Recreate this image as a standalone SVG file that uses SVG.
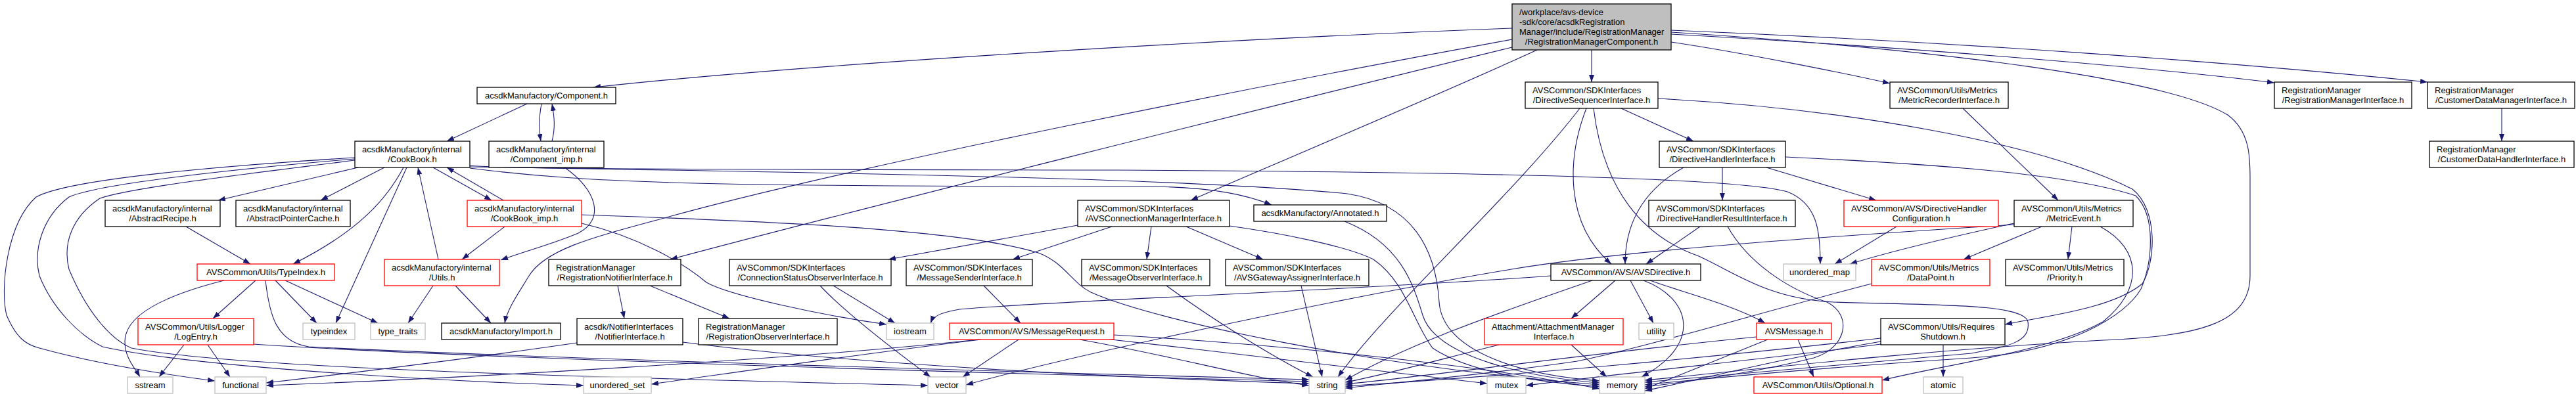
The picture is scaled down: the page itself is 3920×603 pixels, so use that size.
<svg xmlns="http://www.w3.org/2000/svg" width="3920" height="603" viewBox="0 0 3920 603">
<style>
rect{fill:#fff;stroke:#000;stroke-width:1.3}
.r rect{stroke:#ff0000}
.g rect{stroke:#bfbfbf}
.root rect{fill:#bfbfbf}
text{font-family:"Liberation Sans",Arial,Helvetica,sans-serif;font-size:13px;fill:#000}
.c{text-anchor:middle}
#edges path{fill:none;stroke:#191970;stroke-width:1.1;marker-end:url(#a)}
</style>
<defs>
<marker id="a" viewBox="0 0 11 8" refX="11" refY="4" markerWidth="11" markerHeight="8" orient="auto" markerUnits="userSpaceOnUse"><path d="M0,0 L11,4 L0,8 z" fill="#191970"/></marker>
</defs>
<rect x="0" y="0" width="3920" height="603" style="stroke:none;fill:#fff"/>
<g id="edges">
<path d="M2301,43 C1900,58 1250,95 903,133"/>
<path d="M2301,60 C2000,115 1300,250 1000,335 C900,362 830,380 805,420 C790,445 772,470 768,492"/>
<path d="M2301,72 C1900,170 1300,320 1020,395"/>
<path d="M2339,76 C2200,140 1950,245 1812,305"/>
<path d="M2422,76 L2422,125"/>
<path d="M2543,64 C2650,80 2800,110 2876,127"/>
<path d="M2543,52 C2900,72 3250,100 3461,126"/>
<path d="M2543,46 C3000,65 3400,95 3694,125"/>
<path d="M2543,49 C2950,75 3300,120 3390,175 C3424,200 3424,240 3424,270 L3424,420 C3424,495 3340,512 3200,518 C2900,535 2650,565 2503,579"/>
<path d="M2404,165 C2300,300 2110,470 2036,574"/>
<path d="M2414,165 C2385,240 2380,340 2452,402"/>
<path d="M2425,165 C2440,290 2500,360 2585,390 C2640,415 2690,455 2790,460 C2950,465 3080,462 3086,490 C3090,520 3060,527 3000,538 C2800,555 2620,572 2503,582"/>
<path d="M2467,165 L2577,215"/>
<path d="M2523,150 C2800,165 3100,215 3245,288 C3285,320 3280,400 3260,432 C3215,470 3110,482 3051,494"/>
<path d="M2562,255 C2500,290 2473,340 2473,402"/>
<path d="M2621,255 L2621,305"/>
<path d="M2688,255 L2855,305"/>
<path d="M2717,239 C2950,250 3150,265 3250,298 C3282,330 3275,400 3258,440 C3235,480 3150,535 3000,545 C2800,558 2620,574 2503,586"/>
<path d="M2587,345 L2505,402"/>
<path d="M2629,345 C2660,400 2720,440 2780,460 C2820,480 2810,530 2760,545 C2680,565 2580,580 2503,589"/>
<path d="M2360,420 C2100,440 1600,458 1460,471 C1430,476 1420,482 1416,492"/>
<path d="M2423,427 C2300,470 2150,520 2047,579"/>
<path d="M2458,427 L2391,485"/>
<path d="M2481,427 L2516,492"/>
<path d="M2501,427 C2575,455 2590,525 2498,574"/>
<path d="M2511,427 C2560,445 2640,465 2686,492"/>
<path d="M2281,525 C2200,545 2100,573 2047,582"/>
<path d="M2391,525 L2445,574"/>
<path d="M2736,517 L2760,574"/>
<path d="M2673,513 C2400,540 2200,570 2047,585"/>
<path d="M2690,517 C2620,545 2560,570 2503,592"/>
<path d="M2957,525 L2957,574"/>
<path d="M2862,515 C2600,545 2300,572 2047,588"/>
<path d="M2862,520 C2700,548 2600,575 2503,595"/>
<path d="M2862,524 C2700,545 2500,565 2322,587"/>
<path d="M3065,340 C2950,365 2870,385 2815,402"/>
<path d="M3107,345 L2988,395"/>
<path d="M3153,345 L3147,395"/>
<path d="M3065,342 C2700,365 2450,385 2300,410 C2000,460 1600,550 1470,586"/>
<path d="M3196,345 C3260,380 3262,440 3200,490 C3120,535 2960,555 2864,579"/>
<path d="M2886,345 L2792,402"/>
<path d="M2848,432 C2700,470 2500,530 2400,550 C2250,572 2100,585 2047,591"/>
<path d="M2987,165 L3132,305"/>
<path d="M3807,165 L3807,215"/>
<path d="M540,240 C300,255 100,275 55,300 C10,340 0,440 10,480 C25,515 40,525 60,530 C150,555 250,570 327,580"/>
<path d="M540,242 C350,258 150,280 105,300 C65,330 50,380 60,420 C80,470 120,510 156,528 C300,560 700,582 888,587"/>
<path d="M540,244 C400,262 200,285 152,302 C110,330 95,370 105,410 C130,470 165,515 200,530 C350,560 900,575 1412,587"/>
<path d="M545,255 L332,305"/>
<path d="M585,255 L488,305"/>
<path d="M614,255 C590,300 550,350 446,402"/>
<path d="M619,255 L511,492"/>
<path d="M659,255 L748,305"/>
<path d="M715,252 C760,258 1200,258 1700,259 C2300,262 2650,272 2720,292 C2765,310 2770,350 2770,402"/>
<path d="M715,256 C900,280 1100,284 1750,284 C1850,285 1900,298 1935,312"/>
<path d="M715,254 C1200,262 1800,270 2050,295 C2150,310 2185,380 2190,460 C2195,530 2300,570 2434,580"/>
<path d="M2046,337 C2130,370 2150,430 2165,480 C2185,545 2330,575 2434,583"/>
<path d="M802,158 L680,215"/>
<path d="M824,158 C820,180 820,195 823,215"/>
<path d="M840,215 C845,195 844,180 840,158"/>
<path d="M859,255 C910,290 920,335 880,355 C840,372 800,382 762,396"/>
<path d="M766,305 L680,255"/>
<path d="M768,345 L703,395"/>
<path d="M885,340 C970,360 1040,400 1075,430 C1110,450 1250,480 1349,494"/>
<path d="M885,327 C1100,335 1450,345 1580,385 C1620,400 1630,430 1660,445 C1760,490 2100,560 2434,586"/>
<path d="M667,395 L636,255"/>
<path d="M659,435 L621,492"/>
<path d="M693,435 L747,492"/>
<path d="M283,345 L381,402"/>
<path d="M341,427 C250,450 190,480 190,520 C190,545 205,560 213,574"/>
<path d="M389,427 L324,485"/>
<path d="M419,427 L482,492"/>
<path d="M434,427 L575,492"/>
<path d="M404,427 C410,480 420,520 470,528 C800,545 1600,568 1992,578"/>
<path d="M280,525 L242,574"/>
<path d="M316,525 L350,574"/>
<path d="M386,524 C700,545 1500,568 1992,581"/>
<path d="M940,435 L950,485"/>
<path d="M989,435 L1110,485"/>
<path d="M878,522 C700,548 500,572 405,583"/>
<path d="M1039,521 C1300,555 1700,575 1992,584"/>
<path d="M1268,435 L1362,492"/>
<path d="M1248,435 C1290,480 1370,540 1416,574"/>
<path d="M1640,343 L1352,395"/>
<path d="M1692,345 L1541,395"/>
<path d="M1752,345 L1745,395"/>
<path d="M1805,345 L1922,395"/>
<path d="M1871,344 C1950,355 2050,375 2090,395 C2140,430 2150,490 2180,530 C2240,570 2350,582 2434,589"/>
<path d="M1497,435 L1553,492"/>
<path d="M1775,435 C1850,490 1940,545 1998,574"/>
<path d="M1980,435 L2012,574"/>
<path d="M1550,517 L1465,574"/>
<path d="M1493,517 C1300,540 1100,570 991,585"/>
<path d="M1480,518 C1200,548 700,576 405,587"/>
<path d="M1643,517 C1800,545 1900,575 1992,587"/>
<path d="M1682,516 C1900,540 2150,572 2263,584"/>
<path d="M1695,510 C1950,525 2250,555 2434,592"/>
</g>
<g id="root" class="root"><rect x="2301" y="6" width="242" height="70"/><text x="2312" y="23">/workplace/avs-device</text><text x="2312" y="38">-sdk/core/acsdkRegistration</text><text x="2312" y="53">Manager/include/RegistrationManager</text><text class="c" x="2422" y="68">/RegistrationManagerComponent.h</text></g>
<g id="component"><rect x="726" y="133" width="211" height="25"/><text class="c" x="831.5" y="150">acsdkManufactory/Component.h</text></g>
<g id="dirseq"><rect x="2321" y="125" width="202" height="40"/><text x="2332" y="142">AVSCommon/SDKInterfaces</text><text class="c" x="2422" y="157">/DirectiveSequencerInterface.h</text></g>
<g id="metricrec"><rect x="2876" y="125" width="180" height="40"/><text x="2887" y="142">AVSCommon/Utils/Metrics</text><text class="c" x="2966" y="157">/MetricRecorderInterface.h</text></g>
<g id="regmgr"><rect x="3461" y="125" width="209" height="40"/><text x="3472" y="142">RegistrationManager</text><text class="c" x="3565.5" y="157">/RegistrationManagerInterface.h</text></g>
<g id="custmgr"><rect x="3694" y="125" width="224" height="40"/><text x="3705" y="142">RegistrationManager</text><text class="c" x="3806" y="157">/CustomerDataManagerInterface.h</text></g>
<g id="cookbook"><rect x="540" y="215" width="175" height="40"/><text x="551" y="232">acsdkManufactory/internal</text><text class="c" x="627.5" y="247">/CookBook.h</text></g>
<g id="compimp"><rect x="744" y="215" width="175" height="40"/><text x="755" y="232">acsdkManufactory/internal</text><text class="c" x="831.5" y="247">/Component_imp.h</text></g>
<g id="dhi"><rect x="2525" y="215" width="192" height="40"/><text x="2536" y="232">AVSCommon/SDKInterfaces</text><text class="c" x="2621" y="247">/DirectiveHandlerInterface.h</text></g>
<g id="custhandler"><rect x="3697" y="215" width="220" height="40"/><text x="3708" y="232">RegistrationManager</text><text class="c" x="3807" y="247">/CustomerDataHandlerInterface.h</text></g>
<g id="absrecipe"><rect x="160" y="305" width="175" height="40"/><text x="171" y="322">acsdkManufactory/internal</text><text class="c" x="247.5" y="337">/AbstractRecipe.h</text></g>
<g id="abscache"><rect x="359" y="305" width="174" height="40"/><text x="370" y="322">acsdkManufactory/internal</text><text class="c" x="446" y="337">/AbstractPointerCache.h</text></g>
<g id="cookimp" class="r"><rect x="711" y="305" width="174" height="40"/><text x="722" y="322">acsdkManufactory/internal</text><text class="c" x="798" y="337">/CookBook_imp.h</text></g>
<g id="connmgr"><rect x="1640" y="305" width="231" height="40"/><text x="1651" y="322">AVSCommon/SDKInterfaces</text><text class="c" x="1755.5" y="337">/AVSConnectionManagerInterface.h</text></g>
<g id="annotated"><rect x="1908" y="312" width="202" height="25"/><text class="c" x="2009" y="329">acsdkManufactory/Annotated.h</text></g>
<g id="dhr"><rect x="2509" y="305" width="223" height="40"/><text x="2520" y="322">AVSCommon/SDKInterfaces</text><text class="c" x="2620.5" y="337">/DirectiveHandlerResultInterface.h</text></g>
<g id="dhconfig" class="r"><rect x="2806" y="305" width="235" height="40"/><text x="2817" y="322">AVSCommon/AVS/DirectiveHandler</text><text class="c" x="2923.5" y="337">Configuration.h</text></g>
<g id="metricevent"><rect x="3065" y="305" width="181" height="40"/><text x="3076" y="322">AVSCommon/Utils/Metrics</text><text class="c" x="3155.5" y="337">/MetricEvent.h</text></g>
<g id="typeindexh" class="r"><rect x="300" y="402" width="209" height="25"/><text class="c" x="404.5" y="419">AVSCommon/Utils/TypeIndex.h</text></g>
<g id="utils" class="r"><rect x="585" y="395" width="175" height="40"/><text x="596" y="412">acsdkManufactory/internal</text><text class="c" x="672.5" y="427">/Utils.h</text></g>
<g id="regnotifier"><rect x="835" y="395" width="201" height="40"/><text x="846" y="412">RegistrationManager</text><text class="c" x="935.5" y="427">/RegistrationNotifierInterface.h</text></g>
<g id="connstatus"><rect x="1110" y="395" width="246" height="40"/><text x="1121" y="412">AVSCommon/SDKInterfaces</text><text class="c" x="1233" y="427">/ConnectionStatusObserverInterface.h</text></g>
<g id="msgsender"><rect x="1379" y="395" width="192" height="40"/><text x="1390" y="412">AVSCommon/SDKInterfaces</text><text class="c" x="1475" y="427">/MessageSenderInterface.h</text></g>
<g id="msgobserver"><rect x="1646" y="395" width="195" height="40"/><text x="1657" y="412">AVSCommon/SDKInterfaces</text><text class="c" x="1743.5" y="427">/MessageObserverInterface.h</text></g>
<g id="gateway"><rect x="1865" y="395" width="218" height="40"/><text x="1876" y="412">AVSCommon/SDKInterfaces</text><text class="c" x="1974" y="427">/AVSGatewayAssignerInterface.h</text></g>
<g id="avsdirective"><rect x="2360" y="402" width="228" height="25"/><text class="c" x="2474" y="419">AVSCommon/AVS/AVSDirective.h</text></g>
<g id="umap" class="g"><rect x="2714" y="402" width="110" height="25"/><text class="c" x="2769" y="419">unordered_map</text></g>
<g id="datapoint" class="r"><rect x="2848" y="395" width="180" height="40"/><text x="2859" y="412">AVSCommon/Utils/Metrics</text><text class="c" x="2938" y="427">/DataPoint.h</text></g>
<g id="priority"><rect x="3052" y="395" width="180" height="40"/><text x="3063" y="412">AVSCommon/Utils/Metrics</text><text class="c" x="3142" y="427">/Priority.h</text></g>
<g id="logentry" class="r"><rect x="210" y="485" width="176" height="40"/><text x="221" y="502">AVSCommon/Utils/Logger</text><text class="c" x="298" y="517">/LogEntry.h</text></g>
<g id="typeindex" class="g"><rect x="461" y="492" width="79" height="25"/><text class="c" x="500.5" y="509">typeindex</text></g>
<g id="typetraits" class="g"><rect x="564" y="492" width="83" height="25"/><text class="c" x="605.5" y="509">type_traits</text></g>
<g id="import"><rect x="672" y="492" width="181" height="25"/><text class="c" x="762.5" y="509">acsdkManufactory/Import.h</text></g>
<g id="notifier"><rect x="878" y="485" width="161" height="40"/><text x="889" y="502">acsdk/NotifierInterfaces</text><text class="c" x="958.5" y="517">/NotifierInterface.h</text></g>
<g id="regobserver"><rect x="1063" y="485" width="211" height="40"/><text x="1074" y="502">RegistrationManager</text><text class="c" x="1168.5" y="517">/RegistrationObserverInterface.h</text></g>
<g id="iostream" class="g"><rect x="1349" y="492" width="72" height="25"/><text class="c" x="1385" y="509">iostream</text></g>
<g id="msgrequest" class="r"><rect x="1445" y="492" width="250" height="25"/><text class="c" x="1570" y="509">AVSCommon/AVS/MessageRequest.h</text></g>
<g id="attachment" class="r"><rect x="2259" y="485" width="211" height="40"/><text x="2270" y="502">Attachment/AttachmentManager</text><text class="c" x="2364.5" y="517">Interface.h</text></g>
<g id="utility" class="g"><rect x="2494" y="492" width="53" height="25"/><text class="c" x="2520.5" y="509">utility</text></g>
<g id="avsmessage" class="r"><rect x="2673" y="492" width="114" height="25"/><text class="c" x="2730" y="509">AVSMessage.h</text></g>
<g id="reqshutdown"><rect x="2862" y="485" width="189" height="40"/><text x="2873" y="502">AVSCommon/Utils/Requires</text><text class="c" x="2956.5" y="517">Shutdown.h</text></g>
<g id="sstream" class="g"><rect x="194" y="574" width="69" height="25"/><text class="c" x="228.5" y="591">sstream</text></g>
<g id="functional" class="g"><rect x="327" y="574" width="78" height="25"/><text class="c" x="366" y="591">functional</text></g>
<g id="uset" class="g"><rect x="888" y="574" width="103" height="25"/><text class="c" x="939.5" y="591">unordered_set</text></g>
<g id="vector" class="g"><rect x="1412" y="574" width="58" height="25"/><text class="c" x="1441" y="591">vector</text></g>
<g id="string" class="g"><rect x="1992" y="574" width="55" height="25"/><text class="c" x="2019.5" y="591">string</text></g>
<g id="mutex" class="g"><rect x="2263" y="574" width="59" height="25"/><text class="c" x="2292.5" y="591">mutex</text></g>
<g id="memory" class="g"><rect x="2434" y="574" width="69" height="25"/><text class="c" x="2468.5" y="591">memory</text></g>
<g id="optional" class="r"><rect x="2669" y="574" width="195" height="25"/><text class="c" x="2766.5" y="591">AVSCommon/Utils/Optional.h</text></g>
<g id="atomic" class="g"><rect x="2927" y="574" width="60" height="25"/><text class="c" x="2957" y="591">atomic</text></g>
</svg>
